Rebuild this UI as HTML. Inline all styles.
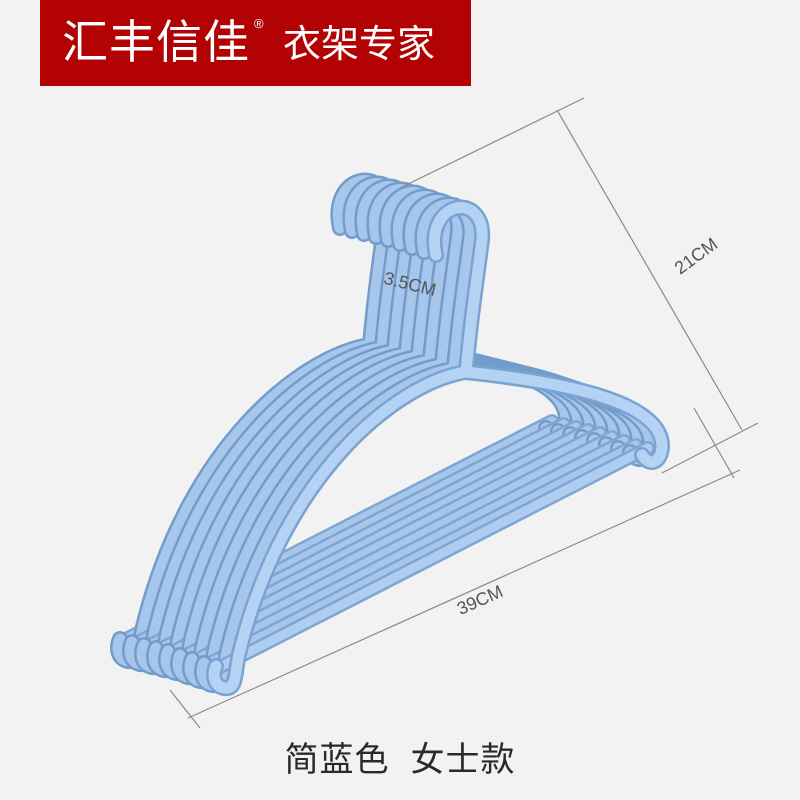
<!DOCTYPE html>
<html><head><meta charset="utf-8"><style>
html,body{margin:0;padding:0}
body{width:800px;height:800px;background:#f2f2f2;position:relative;overflow:hidden;font-family:"Liberation Sans","Noto Sans CJK SC",sans-serif}
.banner{position:absolute;left:40px;top:0;width:431px;height:86px;background:#b20204;color:#fff}
.b1{position:absolute;left:22px;top:12px;font-size:46px;letter-spacing:1px;line-height:60px}
.b2{position:absolute;left:243px;top:20px;font-size:38px;line-height:50px}
.reg{position:absolute;left:214px;top:16px;font-size:13px}
.cap{position:absolute;left:0;width:800px;top:732px;text-align:center;font-size:34px;color:#2a2a2a;letter-spacing:1px}
</style></head><body>
<div class="banner"><div class="b1">汇丰信佳</div><div class="reg">®</div><div class="b2">衣架专家</div></div>
<svg width="800" height="800" style="position:absolute;left:0;top:0">
<defs>
<path id="bar" d="M218 668 L648 448"/>
<path id="p" d="M436 255 C424 200 486 190 482 240 L474 300 C470 330 468 350 466 372 C560 382 660 400 662 445 C662 462 650 468 642 455 M466 372 C400 382 285 470 240 650 C234 672 238 690 224 688 C214 686 212 675 216 666"/>
<g id="h" fill="none" stroke-linecap="round" stroke-linejoin="round">
 <use href="#bar" stroke="#7fa6d2" stroke-width="14"/>
 <use href="#bar" stroke="#a6c6ec" stroke-width="9"/>
 <use href="#p" stroke="#739cca" stroke-width="16"/>
 <use href="#p" stroke="#a6c6ec" stroke-width="11"/>
</g>
<g id="hf" fill="none" stroke-linecap="round" stroke-linejoin="round">
 <use href="#bar" stroke="#7fa6d2" stroke-width="14"/>
 <use href="#bar" stroke="#aecdf0" stroke-width="9"/>
 <use href="#p" stroke="#7aa3d2" stroke-width="16"/>
 <use href="#p" stroke="#b4d2f3" stroke-width="11"/>
</g>
</defs>
<use href="#h" transform="translate(-96,-27)"/>
<use href="#h" transform="translate(-84,-24)"/>
<use href="#h" transform="translate(-72,-21)"/>
<use href="#h" transform="translate(-60,-18)"/>
<use href="#h" transform="translate(-48,-15)"/>
<use href="#h" transform="translate(-36,-11)"/>
<use href="#h" transform="translate(-24,-7)"/>
<use href="#h" transform="translate(-12,-3)"/>
<use href="#hf"/>
<g stroke="#8a8a8a" stroke-width="1.2" fill="none">
 <line x1="400" y1="188" x2="584" y2="98"/>
 <line x1="557" y1="110" x2="742" y2="430"/>
 <line x1="662" y1="473" x2="758" y2="423"/>
 <line x1="694" y1="408" x2="734" y2="478"/>
 <line x1="188" y1="718" x2="740" y2="470"/>
 <line x1="170" y1="690" x2="200" y2="728"/>
</g>
<g fill="#555" font-family="Liberation Sans, sans-serif" font-size="18">
 <text x="480" y="606" text-anchor="middle" transform="rotate(-24 480 600)">39CM</text>
 <text x="696" y="262" text-anchor="middle" transform="rotate(-36 696 256)">21CM</text>
 <text x="410" y="290" text-anchor="middle" transform="rotate(14 410 284)">3.5CM</text>
</g>
</svg>
<div class="cap">简蓝色&nbsp;&nbsp;女士款</div>
</body></html>
